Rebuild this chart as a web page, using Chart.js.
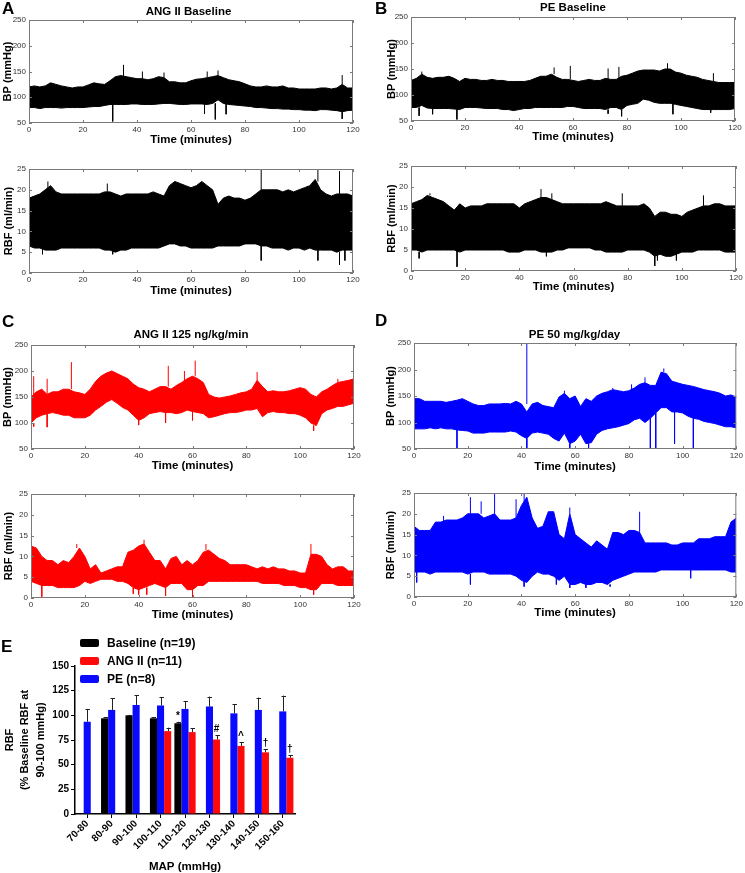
<!DOCTYPE html>
<html><head><meta charset="utf-8">
<script src="https://cdn.jsdelivr.net/npm/chart.js@4.4.0/dist/chart.umd.min.js"></script>
<style>
body{margin:0;background:#fff;width:745px;height:873px;position:relative;overflow:hidden;font-family:"Liberation Sans",Arial,Helvetica,sans-serif;}
.cv{position:absolute;}
.txt{position:absolute;font-weight:bold;color:#000;white-space:nowrap;}
</style></head><body>
<script>
// ---------------- DATA ----------------
const minutes = [0,2,4,6,8,10,12,14,16,18,20,22,24,26,28,30,32,34,36,38,40,42,44,46,48,50,52,54,56,58,60,62,64,66,68,70,72,74,76,78,80,82,84,86,88,90,92,94,96,98,100,102,104,106,108,110,112,114,116,118,120];

// Panel A – ANG II baseline
const angBaseBPHigh = [120,122,120,122,128,125,122,120,118,120,120,124,128,126,125,132,140,142,140,138,136,136,134,136,140,138,130,130,128,128,132,135,136,138,140,142,138,134,132,130,126,122,120,120,122,120,120,122,118,118,116,116,116,116,118,118,116,118,125,118,118];
const angBaseBPLow  = [80,80,78,80,80,80,79,80,80,80,80,81,82,82,84,86,86,86,86,87,87,86,86,86,87,88,88,87,86,86,87,87,87,86,88,95,88,86,85,84,83,82,80,80,79,78,78,77,77,76,76,75,75,74,76,76,75,74,72,74,75];
const angBaseBPSpikes = [[31,85,53],[35,140,163],[42,136,150],[50,138,148],[65,87,68],[66,138,150],[69,88,57],[70,142,152],[73,88,67],[116,125,143],[116,72,58]];
const angBaseRBFHigh = [18,18.5,19,20,21,19.5,19,19,19,19,19,19,19,19,19.5,19.5,19,18.5,19,19,19,19,19,19.5,19,18.5,21,22,21.5,21,20.5,21,22,21,20,16.5,18,18.5,18,18,17.5,18,19,20,20,20,20,19.5,20,19.5,20,20.5,21,22.5,20,19,18.5,19,19,19,18.5];
const angBaseRBFLow  = [6.5,6,6,5.5,5.5,5.5,6,6,6,6,6,6,6,6,5.5,5.5,5,5.5,5.5,6,6,6,6,6,6,6.5,7,7,6.5,6.5,6,6,6,6,6,6.5,6.5,6.5,6.5,6.5,7,7,7,6.5,6.5,6,6,6,5.5,6,6,5.5,6,5.5,5.5,5.5,5.5,5,5.5,5.5,5.5];
const angBaseRBFSpikes = [[5,6,4.5],[7,20,22],[29,19.5,21.5],[31,5.5,4.5],[86,20,25],[86,6.5,3],[107,22,25],[107,5.5,3],[115,19,24.5],[115,5,2],[117,5.5,3]];

// Panel B – PE baseline
const peBaseBPHigh = [128,132,140,134,132,134,134,136,132,126,132,130,130,128,128,130,128,128,126,126,126,126,128,132,136,136,140,134,130,130,128,126,128,130,128,128,132,130,130,136,138,142,146,148,148,148,146,150,150,144,142,138,136,134,130,128,126,124,124,124,124];
const peBaseBPLow  = [76,76,80,75,74,74,74,74,73,72,76,76,76,75,74,74,74,72,72,70,72,74,74,76,76,76,76,76,76,78,78,76,74,74,74,74,72,76,76,72,80,82,84,92,90,86,84,84,84,82,80,78,76,74,72,72,72,72,72,72,74];
const peBaseBPSpikes = [[3,76,60],[4,140,145],[8,74,63],[17,73,53],[53,140,153],[59,130,156],[73,130,151],[73,72,64],[77,130,154],[78,72,59],[95,150,161],[97,84,63],[111,72,66],[112,126,142]];
const peBaseRBFHigh = [16,16.5,17,18,17.5,17,16.5,15.5,14.5,16,15,15.5,15.5,15.5,16,16,16,16,16,16,15,16,16.5,17,17.5,17.5,17,16.5,16,16,16,16,16,16,16,16,16.5,16,15.5,15.5,15.5,15.5,15.5,16,15,13,14,14,13.5,13.5,13,14,14.5,15,15.5,15.5,16,16,15.5,15.5,15.5];
const peBaseRBFLow  = [5,5,4.5,5,5,5,5,5,5,4.5,5,5,5,5,5,5,5,5,4.5,4.5,4.5,5,5,5,4.5,4.5,4.5,5,5,5.5,5.5,5.5,5.5,5.5,5,5,4.5,4.5,4.5,4.5,5,5,5,5,4.5,3.5,4,3.5,3.5,4,4.5,4.5,4.5,5,5,5,5,5,4.5,4.5,4.5];
const peBaseRBFSpikes = [[3,4.5,3],[7,18,18.5],[17,5,1],[48,17.5,19.5],[50,4.5,3.5],[52,17,18.5],[78,15.5,18.5],[90,3.5,1.2],[91,4,2.5],[98,4,2.5],[108,15.5,18]];

// Panel C – ANG II 125 ng/kg/min
const angBPHigh = [150,160,165,155,160,160,165,165,160,158,155,165,180,190,196,200,195,190,185,175,168,165,160,165,170,170,165,172,178,185,190,185,178,155,150,148,150,152,155,158,160,165,182,170,160,162,160,160,162,165,168,165,155,150,160,165,172,178,180,182,185];
const angBPLow  = [100,110,115,118,120,118,115,115,110,110,110,115,125,132,140,145,138,130,125,115,105,110,118,120,122,120,120,118,120,125,122,120,118,110,112,115,118,120,120,122,125,125,128,112,120,122,120,120,118,118,115,110,100,95,118,125,128,132,132,135,138];
const angBPSpikes = [[1,150,190],[1,100,93],[6,155,185],[6,118,92],[15,165,217],[40,105,96],[50,120,100],[51,170,210],[57,178,200],[60,122,105],[61,190,220],[84,182,198],[105,95,85],[114,178,185]];
const angRBFHigh = [12.5,12,10,9,9,8,9,8.5,10,12,10,7,8,6,6.5,7,7.5,7.5,11,11.5,12.5,13,11,9,9,7,9.5,10,8,9,8,9,11,11.5,10.5,9.5,9,8,8,8,8,7.5,7,7.5,7,7.5,7,7,6.5,6.5,6,6,10.5,10.5,10,8,7,7.5,7.5,6.5,6.5];
const angRBFLow  = [4,3.5,3,3,3,2.5,2.5,2.5,2.5,3,4,3.5,4,4.5,4.5,4.5,4,4,3.5,2.5,2,2.5,3,3.5,3,2.5,3.5,3.5,3.5,2,2,3,3,4,4,4,4,4,4,4,4,4,4,3.5,3.5,3.5,3.5,3,3,3,2.5,2.5,2,2,3.5,3.5,3.5,3,3,3,3];
const angRBFSpikes = [[4,3,0.3],[17,12,13],[38,2.5,1],[40,2,0.8],[42,13,14],[43,2.5,0.8],[50,2.5,0.5],[60,2,0.3],[65,11.5,13],[104,10.5,13],[105,2,0.8]];

// Panel D – PE 50 mg/kg/day
const peBPHigh = [145,145,140,140,140,140,138,140,142,145,140,135,132,132,135,135,135,136,135,140,135,120,135,138,132,130,128,148,155,145,150,130,145,140,150,155,158,162,160,158,160,165,172,175,170,170,195,192,178,175,172,170,168,165,162,160,158,155,150,152,148];
const peBPLow  = [88,88,88,90,88,90,88,88,86,85,84,80,80,80,82,82,82,82,84,82,75,70,80,82,80,78,70,65,80,60,65,78,60,62,78,85,88,90,92,95,98,105,108,100,108,118,128,128,120,120,118,112,108,106,102,100,98,95,92,92,90];
const peBPSpikes = [[16,86,50],[42,135,250],[42,70,52],[56,155,160],[58,60,52],[65,60,52],[74,162,165],[81,160,172],[86,175,185],[88,108,50],[90,118,50],[93,195,202],[97,120,60],[104,108,50]];
const peRBFHigh = [17,16,16,16,18,18,18.5,18.5,18.5,19,20,20,20,19,19.5,20,18.5,18.5,18.5,19,22,24,19,16.5,17,20.5,20.5,15,14,20,15,14,13,12,13.5,12.5,11.5,15.5,15.5,15,16,16,15.5,13,13,13,13,13,12.5,12.5,13,13,13,14,14,14,14.5,14.5,14.5,18,19];
const peRBFLow  = [6,6,6,5.5,6,6,6,6,6,6,5.5,6,6,6,5.5,5.5,5.5,5.5,5.5,5,4,3.5,5,6,5.5,5.5,5,4,5,3,3,3.5,3,3,3.5,3.5,3,4,4.5,5,5.5,6,6,6,6,6,6.5,6.5,6.5,6.5,6.5,6.5,6.5,6.5,6.5,6.5,6.5,6.5,6.5,6,6];
const peRBFSpikes = [[1,6,3.5],[11,18,19.5],[21,20,24],[21,5.5,3],[25,20,23],[30,20,25],[38,19,23.5],[41,22,25],[41,4,2.5],[53,5,3],[58,20,21.5],[58,3,2.2],[64,3,2.2],[73,3,2.5],[84,15.5,20.5],[103,6.5,4.5]];

// Panel E – RBF vs MAP
const mapBins = ['70-80','80-90','90-100','100-110','110-120','120-130','130-140','140-150','150-160'];
const baselineRBF = [null,97,100,97,92,null,null,null,null];
const baselineSEM = [null,1,0.5,1,1.5,null,null,null,null];
const peRBF = [93.5,105.5,110.5,110,106.5,109,102,105.5,104];
const peSEM = [13,12,10,8.5,8,10,9,12.5,16];
const angRBF = [null,null,null,84,83,75.5,69,62.5,57];
const angSEM = [null,null,null,3.5,4,4.3,3.8,3.4,2.8];
const baselineMarks = ['','','','','*','','','',''];
const angMarks = ['','','','','','#','^','\u2020','\u2020'];
const seriesNames = ['Baseline (n=19)','ANG II (n=11)','PE (n=8)'];

const panelLetters = ['A','B','C','D','E'];
const panelTitles = ['ANG II Baseline','PE Baseline','ANG II 125 ng/kg/min','PE 50 mg/kg/day'];

// ---------------- RENDERING ----------------
const FONT = '"Liberation Sans", Arial, Helvetica, sans-serif';
Chart.defaults.font.family = FONT;
Chart.defaults.color = '#000';

function addText(txt, x, y, size, center){
  const d = document.createElement('div');
  d.className = 'txt';
  d.textContent = txt;
  d.style.fontSize = size + 'px';
  d.style.lineHeight = size + 'px';
  d.style.left = x + 'px';
  d.style.top = y + 'px';
  if (center) d.style.transform = 'translateX(-50%)';
  document.body.appendChild(d);
}

function makeCanvas(box){
  const c = document.createElement('canvas');
  c.className = 'cv';
  c.width = box.w; c.height = box.h;
  c.style.left = box.x + 'px'; c.style.top = box.y + 'px';
  c.style.width = box.w + 'px'; c.style.height = box.h + 'px';
  document.body.appendChild(c);
  return c;
}

const framePlugin = {
  id: 'frame',
  afterDatasetsDraw(chart){
    const {ctx, chartArea: a, scales: {x, y}} = chart;
    ctx.save();
    ctx.strokeStyle = '#7a7a7a';
    ctx.lineWidth = 1;
    ctx.strokeRect(a.left + 0.5, a.top + 0.5, a.right - a.left - 1, a.bottom - a.top - 1);
    ctx.beginPath();
    x.ticks.forEach(t => {
      const px = Math.round(x.getPixelForValue(t.value)) + 0.5;
      ctx.moveTo(px, a.bottom); ctx.lineTo(px, a.bottom - 3);
      ctx.moveTo(px, a.top); ctx.lineTo(px, a.top + 3);
    });
    y.ticks.forEach(t => {
      const py = Math.round(y.getPixelForValue(t.value)) + 0.5;
      ctx.moveTo(a.left, py); ctx.lineTo(a.left + 3, py);
      ctx.moveTo(a.right, py); ctx.lineTo(a.right - 3, py);
    });
    ctx.stroke();
    ctx.restore();
  }
};

function traceChart(cfg){
  const {box, area, yTitleX, xTitleY, yMin, yMax, yStep, yTitle, high, low, spikes, color} = cfg;
  const c = makeCanvas(box);
  const yLH = 11 * 1.2, xLH = 11.5 * 1.2;
  const spikePts = [];
  spikes.forEach(s => { spikePts.push({x:s[0], y:s[1]}, {x:s[0], y:s[2]}, {x:s[0], y:null}); });
  new Chart(c, {
    type: 'line',
    data: {
      datasets: [
        {data: minutes.map((t,i)=>({x:t, y:high[i]})), borderColor: color, backgroundColor: color, borderWidth: 1, pointRadius: 0, fill: '+1', tension: 0},
        {data: minutes.map((t,i)=>({x:t, y:low[i]})), borderColor: color, backgroundColor: color, borderWidth: 1, pointRadius: 0, fill: false, tension: 0},
        {data: spikePts, borderColor: color, borderWidth: 1, pointRadius: 0, fill: false, spanGaps: false}
      ]
    },
    options: {
      responsive: false, animation: false, devicePixelRatio: 1,
      layout: {autoPadding: false, padding: {left: 0, top: area.t - box.y, right: box.x + box.w - area.r, bottom: 0}},
      plugins: {legend: {display: false}, tooltip: {enabled: false}},
      scales: {
        x: {
          type: 'linear', min: 0, max: 120,
          afterFit: s => { s.height = box.y + box.h - area.b; },
          ticks: {stepSize: 20, font: {size: 8}, color: '#333', padding: 2, maxRotation: 0},
          grid: {display: false, drawTicks: false, tickLength: 0},
          border: {display: false},
          title: {display: true, text: 'Time (minutes)', color: '#000', font: {size: 11.5, weight: 'bold', lineHeight: 1.2},
                  padding: {top: 0, bottom: box.y + box.h - xTitleY - xLH/2}}
        },
        y: {
          type: 'linear', min: yMin, max: yMax,
          afterFit: s => { s.width = area.l - box.x; },
          ticks: {stepSize: yStep, font: {size: 8}, color: '#333', padding: 3},
          grid: {display: false, drawTicks: false, tickLength: 0},
          border: {display: false},
          title: {display: true, text: yTitle, color: '#000', font: {size: 11, weight: 'bold', lineHeight: 1.2},
                  padding: {top: yTitleX - box.x - yLH/2, bottom: 0}}
        }
      }
    },
    plugins: [framePlugin]
  });
}

const BLACK = '#000000', RED = '#ff0000', BLUE = '#0000ff';
const BPT = 'BP (mmHg)', RBFT = 'RBF (ml/min)';

traceChart({box:{x:0,y:0,w:372,h:150}, area:{l:29,t:20,r:353,b:123}, yTitleX:7.5, xTitleY:140, yMin:50, yMax:250, yStep:50, yTitle:BPT, high:angBaseBPHigh, low:angBaseBPLow, spikes:angBaseBPSpikes, color:BLACK});
traceChart({box:{x:0,y:150,w:372,h:150}, area:{l:29,t:169,r:353,b:273}, yTitleX:8.5, xTitleY:291, yMin:0, yMax:25, yStep:5, yTitle:RBFT, high:angBaseRBFHigh, low:angBaseRBFLow, spikes:angBaseRBFSpikes, color:BLACK});
traceChart({box:{x:372,y:0,w:373,h:150}, area:{l:411,t:17,r:735,b:121}, yTitleX:392, xTitleY:137, yMin:50, yMax:250, yStep:50, yTitle:BPT, high:peBaseBPHigh, low:peBaseBPLow, spikes:peBaseBPSpikes, color:BLACK});
traceChart({box:{x:372,y:150,w:373,h:150}, area:{l:411,t:166,r:736,b:271}, yTitleX:392, xTitleY:287, yMin:0, yMax:25, yStep:5, yTitle:RBFT, high:peBaseRBFHigh, low:peBaseRBFLow, spikes:peBaseRBFSpikes, color:BLACK});
traceChart({box:{x:0,y:310,w:372,h:165}, area:{l:31,t:345,r:354,b:449}, yTitleX:7.5, xTitleY:466, yMin:50, yMax:250, yStep:50, yTitle:BPT, high:angBPHigh, low:angBPLow, spikes:angBPSpikes, color:RED});
traceChart({box:{x:0,y:470,w:372,h:155}, area:{l:31,t:494,r:354,b:598}, yTitleX:9, xTitleY:615, yMin:0, yMax:25, yStep:5, yTitle:RBFT, high:angRBFHigh, low:angRBFLow, spikes:angRBFSpikes, color:RED});
traceChart({box:{x:372,y:310,w:373,h:165}, area:{l:414,t:343,r:739,b:449}, yTitleX:391, xTitleY:467, yMin:50, yMax:250, yStep:50, yTitle:BPT, high:peBPHigh, low:peBPLow, spikes:peBPSpikes, color:BLUE});
traceChart({box:{x:372,y:470,w:373,h:155}, area:{l:414,t:493,r:739,b:597}, yTitleX:391, xTitleY:613, yMin:0, yMax:25, yStep:5, yTitle:RBFT, high:peRBFHigh, low:peRBFLow, spikes:peRBFSpikes, color:BLUE});

// ---- Panel E bar chart ----
const errPlugin = {
  id: 'errbars',
  afterDatasetsDraw(chart){
    const ctx = chart.ctx, yS = chart.scales.y;
    ctx.save();
    chart.data.datasets.forEach((ds, di) => {
      const meta = chart.getDatasetMeta(di);
      ds.data.forEach((v, j) => {
        if (v == null) return;
        const bar = meta.data[j];
        const e = ds.sem[j] || 0;
        const yTop = yS.getPixelForValue(v);
        const yE = yS.getPixelForValue(v + e);
        const x = Math.round(bar.x) + 0.5;
        ctx.strokeStyle = '#222'; ctx.lineWidth = 1;
        ctx.beginPath();
        ctx.moveTo(x, yTop); ctx.lineTo(x, yE);
        ctx.moveTo(x - 2, Math.round(yE) + 0.5); ctx.lineTo(x + 2.5, Math.round(yE) + 0.5);
        ctx.stroke();
        const m = ds.marks ? ds.marks[j] : '';
        if (m) {
          ctx.fillStyle = '#000';
          ctx.font = 'bold 10px ' + FONT;
          ctx.textAlign = 'center';
          ctx.textBaseline = 'alphabetic';
          ctx.fillText(m, bar.x, yE - 3);
        }
      });
    });
    ctx.restore();
  }
};

const legendPlugin = {
  id: 'eLegend',
  afterDraw(chart){
    const ctx = chart.ctx;
    const order = [0, 2, 1]; // Baseline, ANG II, PE
    ctx.save();
    order.forEach((di, k) => {
      const ds = chart.data.datasets[di];
      const yc = 23 + k * 18;
      ctx.fillStyle = ds.backgroundColor;
      ctx.beginPath();
      ctx.roundRect(80, yc - 4, 19, 8, 2);
      ctx.fill();
      ctx.fillStyle = '#000';
      ctx.font = 'bold 12px ' + FONT;
      ctx.textAlign = 'left';
      ctx.textBaseline = 'middle';
      ctx.fillText(ds.label, 107, yc + 0.5);
    });
    ctx.restore();
  }
};

(function(){
  const box = {x:0, y:620, w:372, h:253};
  const area = {l:75, t:666, r:295, b:814};
  const c = makeCanvas(box);
  new Chart(c, {
    type: 'bar',
    data: {
      labels: mapBins,
      datasets: [
        {label: seriesNames[0], data: baselineRBF, sem: baselineSEM, marks: baselineMarks, backgroundColor: '#000000'},
        {label: seriesNames[2], data: peRBF, sem: peSEM, backgroundColor: '#0a0aff'},
        {label: seriesNames[1], data: angRBF, sem: angSEM, marks: angMarks, backgroundColor: '#ff0a0a'}
      ]
    },
    options: {
      responsive: false, animation: false, devicePixelRatio: 1,
      categoryPercentage: 0.87, barPercentage: 1.0,
      layout: {autoPadding: false, padding: {left: 0, top: area.t - box.y, right: box.x + box.w - area.r, bottom: 0}},
      plugins: {legend: {display: false}, tooltip: {enabled: false}},
      scales: {
        x: {
          type: 'category',
          afterFit: s => { s.height = box.y + box.h - area.b; },
          ticks: {font: {size: 10, weight: 'bold'}, color: '#000', maxRotation: 45, minRotation: 45, padding: 0, autoSkip: false},
          grid: {display: true, drawOnChartArea: false, drawTicks: true, tickLength: 4, color: '#000', offset: false},
          border: {display: true, color: '#000', width: 1.5},
          title: {display: true, text: 'MAP (mmHg)', color: '#000', font: {size: 11.5, weight: 'bold', lineHeight: 1.0}, padding: {top: 0, bottom: 0.5}}
        },
        y: {
          type: 'linear', min: 0, max: 150,
          afterFit: s => { s.width = area.l - box.x; },
          ticks: {stepSize: 25, font: {size: 10, weight: 'bold'}, color: '#000', padding: 2},
          grid: {display: true, drawOnChartArea: false, drawTicks: true, tickLength: 4, color: '#000'},
          border: {display: true, color: '#000', width: 1.5},
          title: {display: true, text: ['RBF', '(% Baseline RBF at', '90-100 mmHg)'], color: '#000',
                  font: {size: 11, weight: 'bold', lineHeight: 1.4}, padding: {top: 2.3, bottom: 0}}
        }
      }
    },
    plugins: [errPlugin, legendPlugin]
  });
})();

// Panel letters and titles (HTML text)
addText(panelLetters[0], 2, 0, 17, false);
addText(panelLetters[1], 375, 0, 17, false);
addText(panelLetters[2], 2, 313, 17, false);
addText(panelLetters[3], 375, 312, 17, false);
addText(panelLetters[4], 1, 638, 17, false);
addText(panelTitles[0], 188.5, 5.5, 11.5, true);
addText(panelTitles[1], 573, 2, 11.5, true);
addText(panelTitles[2], 191, 328.5, 11.5, true);
addText(panelTitles[3], 574.5, 328.5, 11.5, true);
</script>
</body></html>
